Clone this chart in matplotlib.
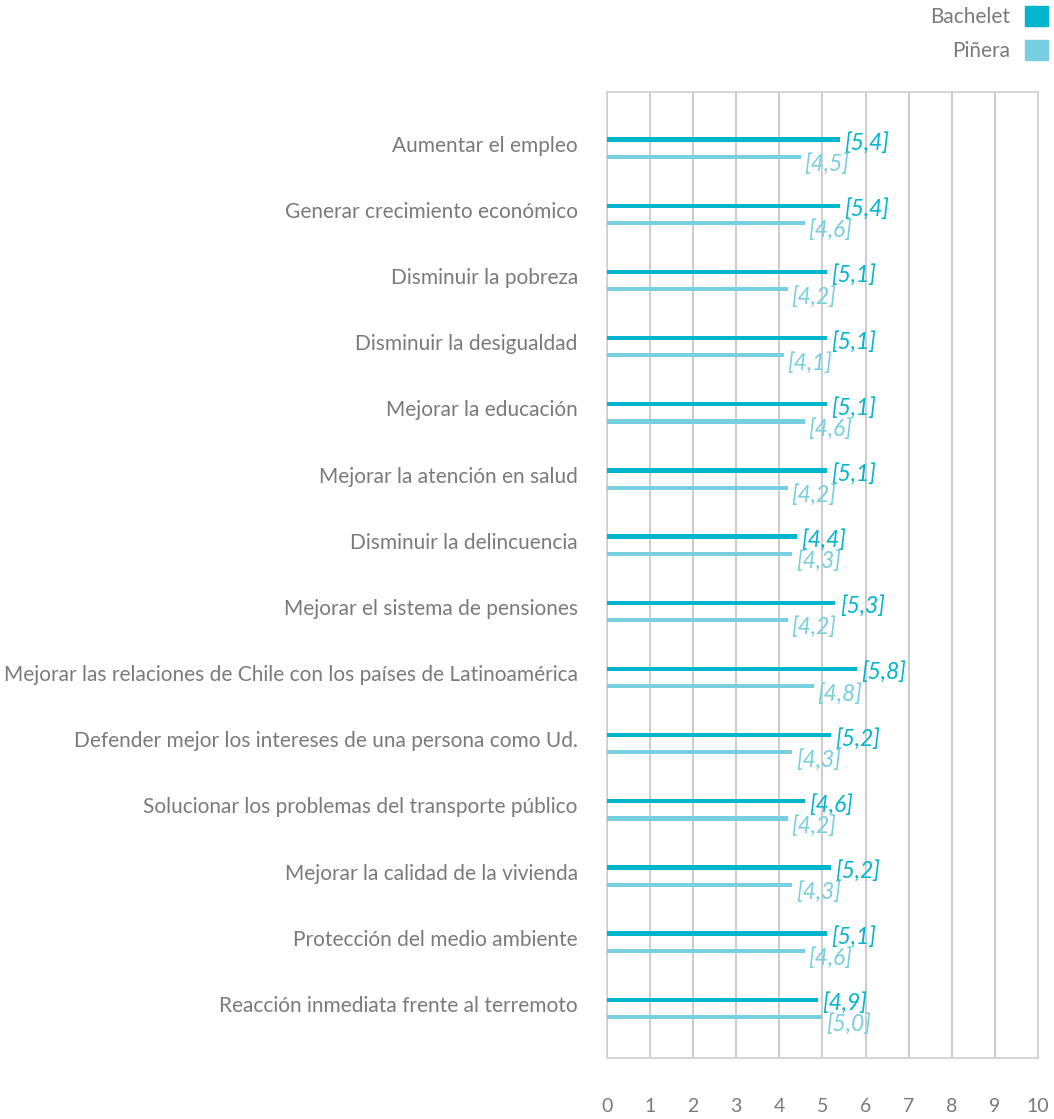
import matplotlib
matplotlib.use("Agg")
import matplotlib.pyplot as plt
import matplotlib.transforms as mtransforms
from matplotlib.patches import Patch

plt.rcParams['font.family'] = ['Lato', 'DejaVu Sans']

categories = [
    "Aumentar el empleo",
    "Generar crecimiento económico",
    "Disminuir la pobreza",
    "Disminuir la desigualdad",
    "Mejorar la educación",
    "Mejorar la atención en salud",
    "Disminuir la delincuencia",
    "Mejorar el sistema de pensiones",
    "Mejorar las relaciones de Chile con los países de Latinoamérica",
    "Defender mejor los intereses de una persona como Ud.",
    "Solucionar los problemas del transporte público",
    "Mejorar la calidad de la vivienda",
    "Protección del medio ambiente",
    "Reacción inmediata frente al terremoto",
]
bachelet = [5.4, 5.4, 5.1, 5.1, 5.1, 5.1, 4.4, 5.3, 5.8, 5.2, 4.6, 5.2, 5.1, 4.9]
pinera = [4.5, 4.6, 4.2, 4.1, 4.6, 4.2, 4.3, 4.2, 4.8, 4.3, 4.2, 4.3, 4.6, 5.0]
xticks = list(range(0, 11))

c_bach = "#00b5cc"
c_pin = "#77cfdf"
c_text = "#7a7a7a"
c_grid = "#c4c4c4"

fig = plt.figure(figsize=(10.54, 11.19), dpi=100)
ax = fig.add_axes([0.5759, 0.0545, 0.4089, 0.8633])

ys = list(range(len(categories)))
off = 0.13
bh = 0.065
ax.barh([y - off for y in ys], bachelet, height=bh, color=c_bach, zorder=3)
ax.barh([y + off for y in ys], pinera, height=bh, color=c_pin, zorder=3)

def fmt(v):
    return "[" + f"{v:.1f}".replace(".", ",") + "]"

for y, b, p in zip(ys, bachelet, pinera):
    ax.text(b + 0.1, y - off + 0.05, fmt(b), color=c_bach, fontsize=16.5,
            style="italic", ha="left", va="center", zorder=4)
    ax.text(p + 0.08, y + off + 0.11, fmt(p), color=c_pin, fontsize=16.5,
            style="italic", ha="left", va="center", zorder=4)

ax.set_xlim(0, 10)
ax.set_ylim(13.75, -0.85)
ax.set_xticks(xticks)
ax.set_xticklabels([str(t) for t in xticks])
ax.set_yticks(ys)
ax.set_yticklabels(categories)
ax.tick_params(axis="both", length=0, colors=c_text)
ax.tick_params(axis="x", pad=29, labelsize=14)
ax.tick_params(axis="y", pad=21, labelsize=15)
shift = mtransforms.ScaledTranslation(0, 4.5 / 100, fig.dpi_scale_trans)
for lbl in ax.get_yticklabels():
    lbl.set_transform(lbl.get_transform() + shift)

ax.grid(axis="x", color=c_grid, linewidth=1.2, zorder=0)
ax.grid(axis="y", visible=False)
for s in ax.spines.values():
    s.set_color("#d0d0d0")
    s.set_linewidth(1.2)

handles = [Patch(color=c_bach, label="Bachelet"), Patch(color=c_pin, label="Piñera")]
leg = fig.legend(handles=handles, loc="upper right", bbox_to_anchor=(1048 / 1054, 1 - 6 / 1119),
                 frameon=False, markerfirst=False, fontsize=15, handlelength=1.1,
                 handleheight=1.1, handletextpad=0.7, labelspacing=0.62, borderaxespad=0,
                 borderpad=0)
for t in leg.get_texts():
    t.set_color(c_text)

fig.savefig("out.png", dpi=100)
